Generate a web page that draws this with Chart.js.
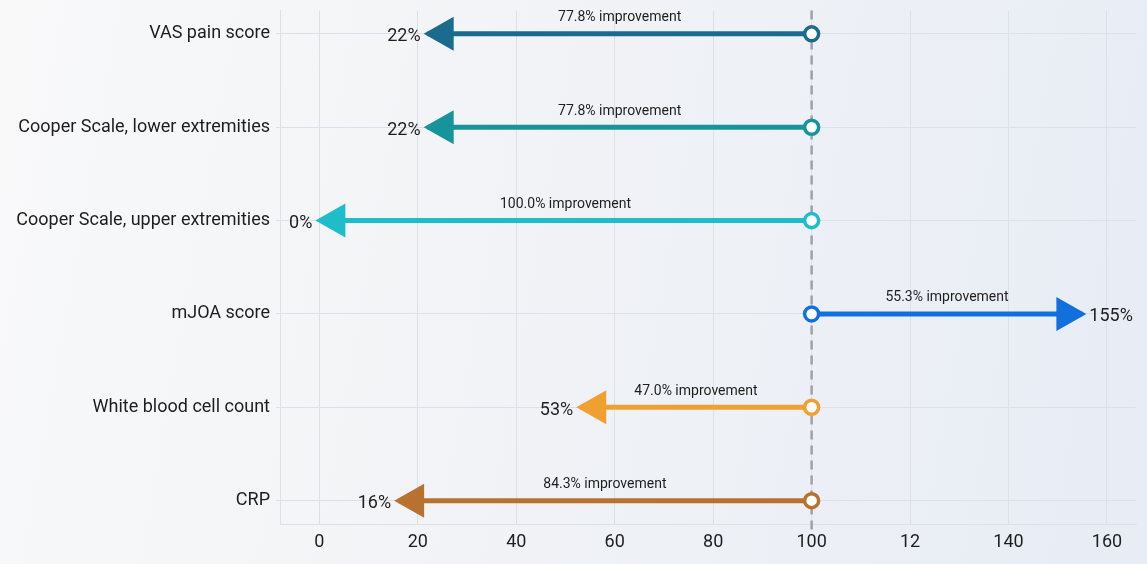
<!DOCTYPE html>
<html>
<head>
<meta charset="utf-8">
<script src="https://cdn.jsdelivr.net/npm/chart.js@4.4.1/dist/chart.umd.min.js"></script>
<style>
  html, body { margin: 0; padding: 0; }
  body {
    width: 1147px; height: 564px; overflow: hidden;
    background: linear-gradient(100deg, #f9f9fa 0%, #f1f3f6 45%, #e7ecf5 100%);
  }
  #wrap { position: relative; width: 1147px; height: 564px; }
</style>
</head>
<body>
<div id="wrap"><canvas id="myChart"></canvas></div>
<script>
"use strict";

// outcome measures, top to bottom
const categories = [
  "VAS pain score",
  "Cooper Scale, lower extremities",
  "Cooper Scale, upper extremities",
  "mJOA score",
  "White blood cell count",
  "CRP"
];
const baseline = [100, 100, 100, 100, 100, 100];
const finalValues = [22, 22, 0, 155, 53, 16];
const improvementText = [
  "77.8% improvement",
  "77.8% improvement",
  "100.0% improvement",
  "55.3% improvement",
  "47.0% improvement",
  "84.3% improvement"
];
const colors = ["#1b6b8f", "#17939b", "#1fbdca", "#1170de", "#f0a031", "#b8712f"];
const xTickValues = [0, 20, 40, 60, 80, 100, 120, 140, 160];
const xTickLabels = ["0", "20", "40", "60", "80", "100", "12", "140", "160"];

const FONT = "Roboto";

let datasets = [];
for (let i = 0; i < categories.length; i++) {
  datasets.push({
    label: categories[i],
    data: [{ x: baseline[i], y: i }, { x: finalValues[i], y: i }],
    borderColor: colors[i],
    borderWidth: 5,
    pointRadius: [7, 0],
    pointHoverRadius: [7, 0],
    pointBackgroundColor: "#ffffff",
    pointBorderColor: colors[i],
    pointBorderWidth: 3.5,
    fill: false
  });
}
// reference line at 100 (last dataset, so drawn behind)
datasets.push({
  label: "baseline",
  data: [{ x: 100, y: -0.25 }, { x: 100, y: 5.32 }],
  borderColor: "#9ea2ab",
  borderWidth: 2.5,
  borderDash: [9, 6],
  pointRadius: 0,
  clip: false,
  fill: false
});

const arrowPlugin = {
  id: "arrows",
  afterDatasetsDraw(chart) {
    const ctx = chart.ctx;
    const xs = chart.scales.x;
    const ys = chart.scales.y;
    ctx.save();
    for (let i = 0; i < categories.length; i++) {
      const d = finalValues[i] < baseline[i] ? -1 : 1;
      const tip = xs.getPixelForValue(finalValues[i]) + d * 4;
      const py = ys.getPixelForValue(i);
      // arrow head
      ctx.fillStyle = colors[i];
      ctx.beginPath();
      ctx.moveTo(tip, py);
      ctx.lineTo(tip - d * 30, py - 17);
      ctx.lineTo(tip - d * 30, py + 17);
      ctx.closePath();
      ctx.fill();
      // value label
      ctx.fillStyle = "#1e1e1e";
      ctx.font = "18px " + FONT;
      ctx.textBaseline = "middle";
      ctx.textAlign = d < 0 ? "right" : "left";
      ctx.fillText(finalValues[i] + "%", tip + d * 3, py + 3);
      // improvement label
      const mid = xs.getPixelForValue((baseline[i] + finalValues[i]) / 2);
      ctx.font = "14px " + FONT;
      ctx.textAlign = "center";
      ctx.textBaseline = "middle";
      ctx.fillText(improvementText[i], mid, py - 16);
    }
    ctx.restore();
  }
};

const chartConfig = {
  type: "line",
  data: { datasets: datasets },
  options: {
    responsive: true,
    maintainAspectRatio: false,
    animation: false,
    layout: { padding: { left: 0, right: 7, top: 10, bottom: 0 } },
    plugins: {
      legend: { display: false },
      tooltip: { enabled: false }
    },
    scales: {
      x: {
        type: "linear",
        position: "bottom",
        min: -8,
        max: 166,
        afterBuildTicks: function (scale) {
          scale.ticks = xTickValues.map((v) => ({ value: v }));
        },
        afterFit: function (scale) {
          scale.height = 40;
          scale.paddingLeft = 0;
          scale.paddingRight = 0;
        },
        ticks: {
          padding: 8,
          color: "#1e1e1e",
          font: { family: FONT, size: 18 },
          callback: function (value) {
            const k = xTickValues.indexOf(value);
            return k >= 0 ? xTickLabels[k] : "";
          }
        },
        grid: { color: "#dde0e6", lineWidth: 1, drawTicks: false },
        border: { color: "#dde0e6" }
      },
      y: {
        type: "linear",
        reverse: true,
        min: -0.25,
        max: 5.25,
        afterBuildTicks: function (scale) {
          scale.ticks = categories.map((c, i) => ({ value: i }));
        },
        afterFit: function (scale) {
          scale.width = 280;
          scale.paddingTop = 0;
          scale.paddingBottom = 0;
        },
        ticks: {
          padding: 6,
          color: "#1e1e1e",
          font: { family: FONT, size: 18 },
          callback: function (value) {
            return categories[value] || "";
          }
        },
        grid: { color: "#dde0e6", lineWidth: 1, tickLength: 4 },
        border: { color: "#dde0e6" }
      }
    }
  },
  plugins: [arrowPlugin]
};

const canvas = document.getElementById("myChart");
const myChart = new Chart(canvas.getContext("2d"), chartConfig);
</script>
</body>
</html>
